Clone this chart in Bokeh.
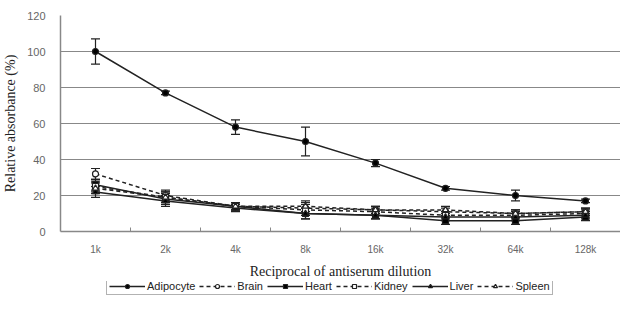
from bokeh.plotting import figure
from bokeh.layouts import column
from bokeh.models import (ColumnDataSource, Whisker, TeeHead, FixedTicker, Legend,
                          LegendItem, Range1d)
from bokeh.embed import file_html
from bokeh.resources import INLINE

dilutions = ["1k", "2k", "4k", "8k", "16k", "32k", "64k", "128k"]
adipocyte = [100, 77, 58, 50, 38, 24, 20, 17]
adipocyte_err = [7, 1, 4, 8, 2, 1, 3, 1]
brain = [32, 20, 14, 13, 12, 11, 10, 11]
heart = [26, 18, 14, 10, 9, 6, 6, 8]
kidney = [25, 19, 14, 12, 11, 9, 9, 10]
liver = [22, 17, 13, 10, 9, 8, 8, 9]
spleen = [24, 19, 14, 14, 12, 12, 10, 11]
small_err = [3, 3, 2, 3, 2, 2, 2, 2]
y_ticks = [0, 20, 40, 60, 80, 100, 120]

xs = [i + 0.5 for i in range(len(dilutions))]

p = figure(width=620, height=281, output_backend="svg", toolbar_location=None,
           x_range=Range1d(0, len(dilutions)), y_range=Range1d(0, 120),
           min_border_left=60, min_border_top=15, min_border_right=0, min_border_bottom=50)
p.outline_line_color = None
p.background_fill_color = "white"

# legend strip: same data sources, but its ranges keep the marks off-screen
lg = figure(width=620, height=14, output_backend="svg", toolbar_location=None,
            x_range=Range1d(-100, -99), y_range=Range1d(-100, -99),
            x_axis_type=None, y_axis_type=None,
            min_border_left=0, min_border_top=0, min_border_right=0, min_border_bottom=0)
lg.outline_line_color = None
lg.xgrid.visible = False
lg.ygrid.visible = False

series = [
    ("Adipocyte", adipocyte, adipocyte_err, "solid", "circle", "black"),
    ("Brain", brain, small_err, "dashed", "circle", "white"),
    ("Heart", heart, small_err, "solid", "square", "black"),
    ("Kidney", kidney, small_err, "dashed", "square", "white"),
    ("Liver", liver, small_err, "solid", "triangle", "black"),
    ("Spleen", spleen, small_err, "dashed", "triangle", "white"),
]

items = []
for name, vals, err, dash, marker, fill in series:
    src = ColumnDataSource(dict(x=xs, y=vals,
                                upper=[v + e for v, e in zip(vals, err)],
                                lower=[v - e for v, e in zip(vals, err)]))
    w = Whisker(source=src, base="x", upper="upper", lower="lower",
                line_color="#222222", line_width=1.2,
                upper_head=TeeHead(size=9, line_color="#222222", line_width=1.2),
                lower_head=TeeHead(size=9, line_color="#222222", line_width=1.2))
    p.add_layout(w)
    dash_str = "4 3" if dash == "dashed" else "solid"
    p.line("x", "y", source=src, line_color="#222222", line_width=1.5, line_dash=dash_str)
    p.scatter("x", "y", source=src, marker=marker, size=6,
              line_color="#222222", fill_color=fill, line_width=1.2)
    ln = lg.line("x", "y", source=src, line_color="#222222", line_width=1.5, line_dash=dash_str)
    sc = lg.scatter("x", "y", source=src, marker=marker, size=6,
                    line_color="#222222", fill_color=fill, line_width=1.2)
    items.append(LegendItem(label=name, renderers=[ln, sc]))

# axes
p.xaxis.ticker = FixedTicker(ticks=xs, minor_ticks=list(range(1, len(dilutions))))
p.xaxis.major_label_overrides = {x: d for x, d in zip(xs, dilutions)}
p.xaxis.major_tick_in = 0
p.xaxis.major_tick_out = 0
p.xaxis.minor_tick_in = 4
p.xaxis.minor_tick_out = 0
p.xaxis.minor_tick_line_color = "#888888"
p.xaxis.axis_line_color = "#888888"
p.xaxis.axis_line_width = 1.5
p.xaxis.major_label_text_font = "Liberation Sans"
p.xaxis.major_label_text_font_size = "10px"
p.xaxis.major_label_text_color = "#666666"
p.xaxis.major_label_standoff = 12
p.xaxis.axis_label = "Reciprocal of antiserum dilution"
p.xaxis.axis_label_text_font = "Liberation Serif"
p.xaxis.axis_label_text_font_style = "normal"
p.xaxis.axis_label_text_font_size = "14px"
p.xaxis.axis_label_text_color = "#222222"
p.xaxis.axis_label_standoff = 6

p.yaxis.ticker = FixedTicker(ticks=y_ticks)
p.yaxis.major_tick_in = 0
p.yaxis.major_tick_out = 0
p.yaxis.minor_tick_line_color = None
p.yaxis.axis_line_color = "#888888"
p.yaxis.axis_line_width = 1.5
p.yaxis.major_label_text_font = "Liberation Sans"
p.yaxis.major_label_text_font_size = "11px"
p.yaxis.major_label_text_color = "#666666"
p.yaxis.major_label_standoff = 15
p.yaxis.axis_label = "Relative absorbance (%)"
p.yaxis.axis_label_text_font = "Liberation Serif"
p.yaxis.axis_label_text_font_style = "normal"
p.yaxis.axis_label_text_font_size = "14px"
p.yaxis.axis_label_text_color = "#222222"
p.yaxis.axis_label_standoff = 6

p.xgrid.grid_line_color = None
p.ygrid.grid_line_color = "#888888"
p.ygrid.grid_line_width = 1.2

legend = Legend(items=items, orientation="horizontal", location=(46, 0),
                label_text_font="Liberation Sans", label_text_font_size="11px",
                label_text_color="#222222", glyph_width=36, glyph_height=10,
                label_standoff=2, spacing=4, padding=2, margin=0,
                border_line_color="#666666", border_line_width=1.2,
                label_height=10, background_fill_alpha=1)
lg.add_layout(legend, "center")

layout = column(p, lg, spacing=0)
open("out.html", "w").write(file_html(layout, INLINE))
